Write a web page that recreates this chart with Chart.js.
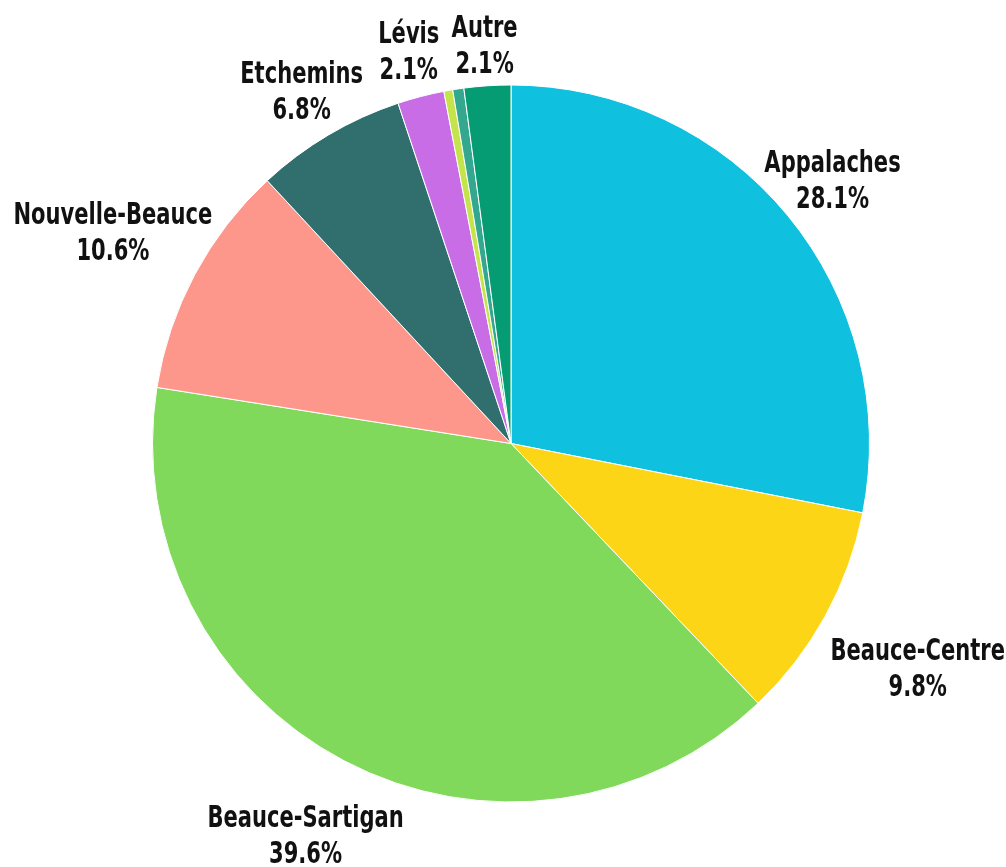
<!DOCTYPE html>
<html>
<head>
<meta charset="utf-8">
<script src="https://cdn.jsdelivr.net/npm/chart.js@4"></script>
<style>
  html, body { margin: 0; padding: 0; background: #ffffff; }
  #wrap { width: 1006px; height: 867px; }
</style>
</head>
<body>
<div id="wrap"><canvas id="c" width="1006" height="867"></canvas></div>
<script>
const categories = ['Appalaches', 'Beauce-Centre', 'Beauce-Sartigan', 'Nouvelle-Beauce', 'Etchemins', 'Lévis', '', '', 'Autre'];
const shares = [28.1, 9.8, 39.6, 10.6, 6.8, 2.1, 0.4, 0.5, 2.1];
const sliceColors = ['#0fc1df', '#fdd517', '#80d95b', '#fd978c', '#316e6e', '#c86de6', '#c5e34b', '#33a88f', '#069c73'];

const FONT = '"DejaVu Sans Condensed", "Liberation Sans Narrow", "Roboto", sans-serif';
const labelGap = [2, 28, 31, 4, 13, 19, 0, 0, 13];

const outsideLabels = {
  id: 'outsideLabels',
  afterDatasetsDraw(chart) {
    const ctx = chart.ctx;
    const meta = chart.getDatasetMeta(0);
    const lineH = 36;
    const sx = 0.78;
    const capH = 22;
    ctx.save();
    ctx.fillStyle = '#111111';
    ctx.textAlign = 'center';
    ctx.textBaseline = 'alphabetic';
    ctx.font = 'bold 30px ' + FONT;
    meta.data.forEach((arc, i) => {
      const name = categories[i];
      if (!name) return;
      const p = arc.getProps(['x', 'y', 'startAngle', 'endAngle', 'outerRadius'], true);
      const mid = (p.startAngle + p.endAngle) / 2;
      const vx = Math.cos(mid), vy = Math.sin(mid);
      const l1 = name;
      const l2 = shares[i].toFixed(1) + '%';
      const w = Math.max(ctx.measureText(l1).width, ctx.measureText(l2).width) * sx;
      const h = 57;
      const ext = Math.sqrt(Math.pow(w / 2 * vx, 2) + Math.pow(h / 2 * vy, 2));
      const d = p.outerRadius + labelGap[i] + ext;
      const cx = p.x + d * vx;
      const cy = p.y + d * vy;
      const b1 = cy - lineH / 2 + capH / 2;
      const b2 = cy + lineH / 2 + capH / 2;
      ctx.save();
      ctx.translate(cx, 0);
      ctx.scale(sx, 1);
      ctx.fillText(l1, 0, b1);
      ctx.fillText(l2, 0, b2);
      ctx.restore();
    });
    ctx.restore();
  }
};

new Chart(document.getElementById('c'), {
  type: 'pie',
  data: {
    labels: categories,
    datasets: [{
      data: shares,
      backgroundColor: sliceColors,
      borderColor: '#ffffff',
      borderWidth: 1,
      hoverOffset: 0
    }]
  },
  options: {
    responsive: false,
    animation: false,
    layout: { padding: { top: 84, bottom: 64, left: 152, right: 136 } },
    plugins: {
      legend: { display: false },
      tooltip: { enabled: false }
    }
  },
  plugins: [outsideLabels]
});
</script>
</body>
</html>
